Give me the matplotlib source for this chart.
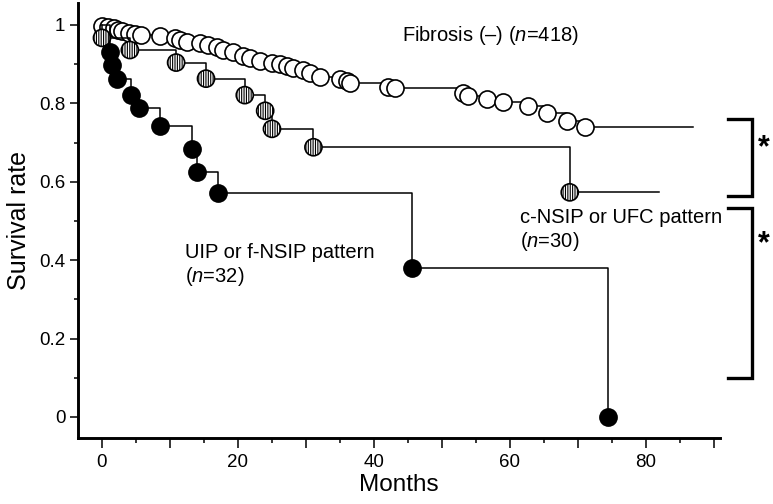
import matplotlib
matplotlib.use('Agg')
import matplotlib.pyplot as plt
from matplotlib.ticker import FixedLocator, FixedFormatter

plt.rcParams['font.family'] = ['Liberation Sans', 'DejaVu Sans']
plt.rcParams['mathtext.fontset'] = 'custom'
plt.rcParams['mathtext.rm'] = 'Liberation Sans'
plt.rcParams['mathtext.it'] = 'Liberation Sans:italic'
plt.rcParams['hatch.linewidth'] = 0.8

# ---- data (months, survival) ----
fib_t = [0.0, 0.9, 1.7, 2.4, 2.9, 3.9, 4.9, 5.8, 8.5, 10.7, 11.5, 12.5, 14.4, 15.6,
         16.9, 17.8, 19.3, 20.8, 21.8, 23.2, 25.0, 26.2, 27.2, 28.1, 29.6, 30.6,
         32.1, 35.0, 36.0, 36.5, 42.1, 43.1, 53.1, 53.9, 56.6, 59.0, 62.7, 65.4,
         68.4, 71.0]
fib_s = [0.998, 0.996, 0.992, 0.987, 0.985, 0.980, 0.978, 0.974, 0.971, 0.966,
         0.962, 0.957, 0.955, 0.949, 0.945, 0.937, 0.932, 0.920, 0.915, 0.909,
         0.904, 0.901, 0.895, 0.890, 0.884, 0.878, 0.868, 0.862, 0.856, 0.852,
         0.843, 0.838, 0.826, 0.819, 0.810, 0.804, 0.792, 0.776, 0.755, 0.740]
fib_end = 86.9

nsip_t = [0.0, 4.1, 10.9, 15.3, 21.0, 24.0, 25.0, 31.1, 68.8]
nsip_s = [0.967, 0.936, 0.904, 0.863, 0.821, 0.781, 0.735, 0.688, 0.573]
nsip_end = 82.0

uip_t = [1.2, 1.4, 2.2, 4.2, 5.5, 8.6, 13.3, 13.9, 17.0, 45.6, 74.4]
uip_s = [0.932, 0.898, 0.861, 0.821, 0.787, 0.741, 0.683, 0.624, 0.572, 0.380, 0.0]
uip_end = 74.4

x_ticks = [0, 10, 20, 30, 40, 50, 60, 70, 80, 90]
x_labels = ['0', '', '20', '', '40', '', '60', '', '80', '']
y_ticks = [0, 0.2, 0.4, 0.6, 0.8, 1.0]
y_labels = ['0', '0.2', '0.4', '0.6', '0.8', '1']

fig = plt.figure(figsize=(7.73, 5.04), dpi=100)
ax = fig.add_axes([78 / 773, 66 / 504, (720 - 78) / 773, (501 - 66) / 504])

lw = 1.1
ms = 12.3


def curve(t, s, end):
    xs = [0.0] + list(t)
    ys = [1.0] + list(s)
    if end > xs[-1]:
        xs.append(end)
        ys.append(ys[-1])
    return xs, ys


for t, s, end, z in [(fib_t, fib_s, fib_end, 2), (nsip_t, nsip_s, nsip_end, 4),
                     (uip_t, uip_s, uip_end, 6)]:
    xs, ys = curve(t, s, end)
    ax.step(xs, ys, where='post', color='black', lw=lw, zorder=z)

ax.scatter(fib_t, fib_s, s=ms ** 2, facecolor='white', edgecolor='black',
           linewidths=1.2, zorder=3)
ax.scatter(nsip_t, nsip_s, s=ms ** 2, facecolor='white', edgecolor='black',
           linewidths=1.2, hatch='|||||||', zorder=5)
ax.scatter(uip_t, uip_s, s=ms ** 2, facecolor='black', edgecolor='black',
           linewidths=1.2, zorder=7)

ax.set_xlim(-3.53, 90.9)
ax.set_ylim(-0.0536, 1.056)

for side in ['top', 'right']:
    ax.spines[side].set_visible(False)
for side in ['left', 'bottom']:
    ax.spines[side].set_linewidth(2.1)

ax.xaxis.set_major_locator(FixedLocator(x_ticks))
ax.xaxis.set_major_formatter(FixedFormatter(x_labels))
ax.xaxis.set_minor_locator(FixedLocator([5, 15, 25, 35, 45, 55, 65, 75, 85]))
ax.yaxis.set_major_locator(FixedLocator(y_ticks))
ax.yaxis.set_major_formatter(FixedFormatter(y_labels))
ax.yaxis.set_minor_locator(FixedLocator([0.1, 0.3, 0.5, 0.7, 0.9]))

ax.tick_params(axis='x', which='major', length=7.5, width=1.1, labelsize=13.5, pad=4)
ax.tick_params(axis='x', which='minor', length=3.8, width=1.1)
ax.tick_params(axis='y', which='major', length=6, width=1.1, labelsize=13.5, pad=3)
ax.tick_params(axis='y', which='minor', length=3, width=1.1)

ax.set_xlabel('Months', fontsize=17.5, labelpad=2)
ax.set_ylabel('Survival rate', fontsize=18, labelpad=6)

fs = 14.5
ax.text(44.1, 0.974, r'Fibrosis (–) ($\mathit{n}$=418)', fontsize=fs,
        ha='left', va='center')
ax.text(12.2, 0.387, 'UIP or f-NSIP pattern\n' + r'($\mathit{n}$=32)', fontsize=fs,
        ha='left', va='center', linespacing=1.15)
ax.text(91.2, 0.476, 'c-NSIP or UFC pattern\n' + r'($\mathit{n}$=30)', fontsize=fs,
        ha='right', va='center', multialignment='left', linespacing=1.15)

# significance brackets
bx0, bx1 = 92.1, 95.6
for ytop, ybot in [(0.760, 0.564), (0.533, 0.0995)]:
    ax.plot([bx0, bx1, bx1, bx0], [ytop, ytop, ybot, ybot], color='black',
            lw=2.4, clip_on=False, solid_joinstyle='miter')
ax.text(97.3, 0.685, '*', fontsize=22, fontweight='bold', ha='center',
        va='center', clip_on=False)
ax.text(97.3, 0.44, '*', fontsize=22, fontweight='bold', ha='center',
        va='center', clip_on=False)

fig.savefig('out.png', dpi=100)
